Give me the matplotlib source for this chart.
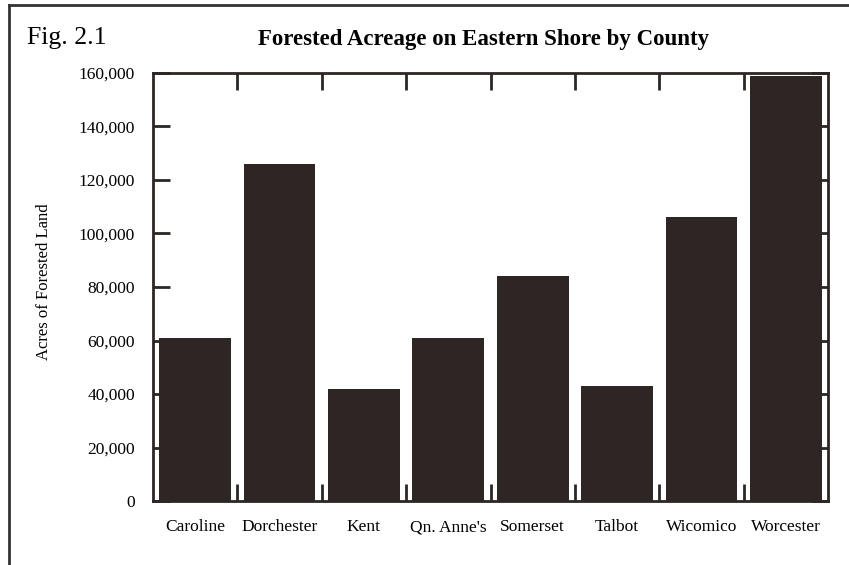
import matplotlib
matplotlib.use("Agg")
import matplotlib.pyplot as plt
from matplotlib.lines import Line2D
import numpy as np

counties = ["Caroline", "Dorchester", "Kent", "Qn. Anne's", "Somerset", "Talbot", "Wicomico", "Worcester"]
acres = [61000, 126000, 42000, 61000, 84000, 43000, 106000, 159000]
yticks = [0, 20000, 40000, 60000, 80000, 100000, 120000, 140000, 160000]

plt.rcParams['font.family'] = ['Liberation Serif', 'DejaVu Serif']
dark = "#2e2624"

fig = plt.figure(figsize=(8.49, 5.65), dpi=100)
ax = fig.add_axes([153/849, 1 - 501/565, 675/849, 428/565])

x = np.arange(len(counties))
ax.bar(x, acres, width=0.85, color=dark, zorder=1)
ax.set_xlim(-0.5, len(counties) - 0.5)
ax.set_ylim(0, 160000)

ax.set_xticks(x)
ax.set_xticklabels(counties, fontsize=12.5)
ax.set_xticks(np.arange(-0.5, len(counties) - 0.5, 1)[1:], minor=True)
ax.tick_params(axis='x', which='major', length=0, pad=13)
ax.tick_params(axis='x', which='minor', direction='in', length=12, width=2, color=dark, top=True, bottom=True)

ax.set_yticks(yticks)
ax.set_yticklabels([f"{v:,}" for v in yticks], fontsize=12.5)
ax.tick_params(axis='y', direction='in', length=12, width=2, color=dark, left=True, right=True, pad=13)

for s in ax.spines.values():
    s.set_linewidth(2)
    s.set_color(dark)
    s.set_zorder(3)

fig.text(44/849, 1 - 282/565, "Acres of Forested Land", rotation=90, ha='center', va='center', fontsize=12)

fig.text(27/849, 1 - 38/565, "Fig. 2.1", fontsize=18.5, ha='left', va='center')
fig.text(484/849, 1 - 39/565, "Forested Acreage on Eastern Shore by County", fontsize=16.5,
         fontweight='bold', ha='center', va='center')

# outer frame lines (left and top)
fig.add_artist(Line2D([9/849, 9/849], [0, 1 - 5/565], transform=fig.transFigure, color="#333333", lw=2))
fig.add_artist(Line2D([9/849, 1], [1 - 5/565, 1 - 5/565], transform=fig.transFigure, color="#333333", lw=2))

fig.savefig("out.png", dpi=100)
